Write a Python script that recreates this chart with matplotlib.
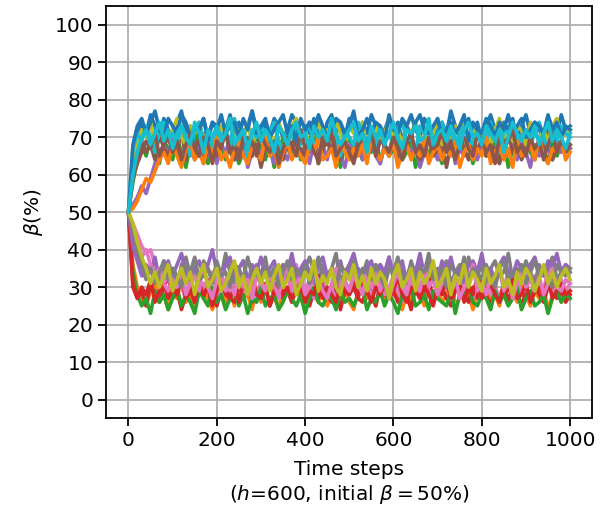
import numpy as np
import matplotlib
matplotlib.use("Agg")
import matplotlib.pyplot as plt

# beta (%) of each run, read every 10 time steps (0..1000)
steps = np.arange(0, 1001, 10)

run0 = [50,64,70,74,71,76,73,69,75,72, 70,74,77,71,73,69,72,75,70,74, 73,68,72,76,71,74,70,73,77,72,
        69,74,71,75,73,70,72,76,74,69, 73,71,75,72,68,74,76,71,73,70, 75,72,69,74,71,76,73,70,72,75,
        71,74,69,73,76,72,70,75,73,68, 72,74,71,77,73,70,72,75,71,74, 69,73,76,72,70,74,72,75,69,73,
        76,71,74,72,70,75,73,71,76,72, 73]
run1 = [50,36,30,27,25,29,31,26,28,24, 30,27,32,26,28,25,29,31,27,24, 28,30,26,29,25,31,27,28,24,30,
        26,29,32,27,25,28,30,26,29,27, 24,31,28,26,30,25,28,32,27,29, 26,24,29,31,27,28,25,30,26,28,
        31,27,24,29,26,30,28,25,31,27, 29,26,28,32,25,27,30,28,24,29, 27,31,26,28,25,30,27,29,26,31,
        28,25,29,27,30,24,28,31,26,28, 29]
run2 = [50,58,64,68,65,70,66,63,69,67, 64,70,66,62,68,71,65,67,63,69, 66,68,64,70,67,63,66,69,65,71,
        67,64,68,62,66,70,67,65,69,64, 68,66,71,63,67,65,69,66,62,68, 70,65,67,64,69,66,71,63,68,65,
        67,70,64,66,69,62,67,68,65,70, 66,63,69,67,64,71,66,68,63,67, 69,65,66,70,64,68,62,67,69,65,
        71,66,64,68,67,63,70,65,68,66, 67]
run3 = [50,30,27,29,25,31,28,26,30,33, 27,29,24,28,31,26,30,27,32,28, 25,29,31,27,26,30,28,33,26,29,
        27,31,25,28,30,27,29,26,32,28, 30,25,29,27,31,28,26,30,24,29, 28,32,27,26,30,29,25,31,28,27,
        29,26,31,28,24,30,27,29,33,26, 28,30,27,25,29,31,28,26,30,27, 32,28,25,29,27,31,26,30,28,25,
        29,27,31,28,26,30,33,27,29,26, 28]
run4 = [50,52,54,57,55,59,63,66,68,65, 70,66,63,68,67,64,69,71,65,67, 63,68,66,70,64,67,69,62,66,68,
        65,70,67,63,69,66,64,68,71,65, 67,63,69,66,68,64,70,67,65,62, 68,66,70,64,67,69,65,63,68,66,
        71,64,67,69,65,68,62,66,70,67, 64,68,66,71,63,67,65,69,66,64, 68,70,65,67,63,69,66,68,64,70,
        66,62,68,65,69,67,64,70,66,68, 67]
run5 = [50,60,65,69,66,68,64,71,67,65, 69,66,72,64,68,66,70,63,67,69, 65,68,71,66,64,69,67,70,65,68,
        62,67,70,66,68,64,69,72,66,67, 65,70,68,63,67,69,66,71,64,68, 67,65,70,68,64,69,66,72,67,65,
        68,63,69,67,71,66,64,68,70,65, 67,69,62,68,66,71,67,64,69,66, 70,65,68,67,63,69,71,66,68,64,
        67,70,65,68,66,72,64,67,69,66, 68]
run6 = [50,47,44,41,39,40,36,34,31,33, 29,32,30,27,33,35,28,31,29,34, 30,27,32,29,35,31,28,33,30,26,
        32,29,34,31,27,30,33,28,36,30, 29,32,27,31,34,29,30,26,33,31, 28,35,30,29,32,27,31,34,28,30,
        33,29,26,31,30,35,28,32,29,27, 31,34,30,28,32,29,36,30,27,31, 29,33,28,31,26,30,34,29,32,28,
        30,27,33,31,29,35,28,30,32,29, 31]
run7 = [50,43,38,35,32,36,34,31,37,33, 35,30,36,38,33,34,31,37,35,32, 36,33,39,34,31,35,37,32,34,36,
        33,38,31,35,34,36,32,37,33,30, 35,38,34,32,36,33,35,39,31,34, 36,32,35,33,37,30,34,36,33,38,
        32,35,34,31,37,33,36,34,39,32, 35,33,37,31,34,36,32,38,34,33, 36,31,35,37,33,34,39,32,35,33,
        37,34,31,36,33,35,38,32,34,36, 34]
run8 = [50,63,69,72,70,74,68,71,73,69, 72,75,70,68,73,71,74,69,72,70, 67,73,71,75,69,72,70,74,68,71,
        73,70,72,67,74,71,69,73,75,70, 72,68,71,74,70,72,69,75,71,68, 73,71,70,74,67,72,73,69,71,75,
        70,72,68,73,71,74,70,69,72,71, 75,68,72,70,73,71,74,69,72,70, 71,73,68,72,75,70,71,69,73,72,
        68,74,71,70,72,69,73,75,70,71, 72]
run9 = [50,67,71,69,73,70,66,72,74,69, 71,68,73,70,65,72,74,69,71,67, 73,70,72,68,75,69,71,64,72,70,
        73,68,71,74,69,66,72,70,73,68, 71,74,67,70,72,69,73,71,65,72, 70,68,74,71,69,72,67,73,70,71,
        68,72,74,69,70,66,73,71,72,68, 70,74,69,72,67,71,73,70,68,72, 71,69,74,70,66,72,71,73,69,70,
        72,68,71,74,70,67,72,69,73,71, 70]
run10 = [50,68,73,75,71,74,77,72,70,75, 73,71,76,74,70,73,72,75,69,74, 72,76,71,73,74,70,75,72,77,71,
         73,75,70,72,74,76,71,73,69,75, 72,74,71,76,73,70,72,75,74,71, 73,77,70,72,75,71,74,73,69,76,
         72,71,75,73,70,74,76,72,71,73, 75,70,72,74,71,73,76,69,74,72, 71,75,73,70,74,72,76,71,73,75,
         70,72,74,73,71,76,72,74,70,73, 72]
run11 = [50,51,53,56,59,58,61,64,66,63, 68,65,62,67,69,64,66,63,68,65, 70,64,66,62,67,69,65,63,68,66,
         64,70,65,67,62,66,69,64,67,65, 63,68,66,70,64,65,67,62,69,66, 64,67,65,68,63,70,66,64,67,65,
         69,62,66,68,64,67,65,70,63,66, 68,64,67,65,69,62,66,68,64,67, 65,70,63,66,68,64,67,62,69,65,
         66,68,64,70,65,63,67,66,69,64, 66]
run12 = [50,34,28,25,27,23,29,26,28,24, 27,30,25,28,26,23,29,27,25,30, 26,28,24,27,29,25,28,23,27,26,
         30,25,27,28,24,26,29,27,25,28, 23,27,30,26,25,28,27,24,29,26, 27,25,28,30,24,27,26,29,25,28,
         26,23,28,27,30,25,26,28,24,29, 27,26,25,29,23,28,27,30,26,25, 28,27,24,29,26,28,25,27,30,24,
         27,29,25,26,28,23,27,29,26,28, 27]
run13 = [50,31,27,30,28,32,26,29,31,27, 30,28,33,27,29,26,31,28,30,25, 29,32,28,27,30,26,31,29,33,28,
         27,30,25,29,32,28,30,27,29,31, 26,29,28,33,27,30,28,26,31,29, 28,30,27,32,29,26,30,28,31,27,
         29,33,28,26,30,29,27,31,28,25, 30,28,32,27,29,31,26,30,28,33, 27,29,31,28,26,30,29,32,27,28,
         31,26,29,30,28,32,27,29,31,28, 29]
run14 = [50,41,37,33,36,34,38,32,35,37, 33,36,39,34,31,35,37,33,36,40, 34,32,36,38,33,35,37,31,36,34,
         38,33,35,37,32,36,34,39,33,35, 37,34,31,36,38,33,35,34,37,32, 36,39,34,33,35,37,32,36,34,38,
         33,35,37,31,36,34,39,33,35,36, 32,37,34,38,33,35,31,36,37,34, 39,33,35,32,36,38,34,33,37,35,
         31,36,38,34,33,37,35,39,34,36, 35]
run15 = [50,59,63,66,69,67,71,65,68,70, 66,69,64,68,71,67,65,70,68,63, 69,67,72,66,68,64,70,67,69,65,
         71,68,66,69,63,67,70,68,65,72, 67,69,66,64,70,68,71,65,67,69, 66,63,68,70,67,72,65,69,68,66,
         70,67,64,69,71,66,68,65,70,67, 68,72,66,69,64,68,70,67,65,71, 69,66,68,63,70,67,69,72,66,68,
         65,70,67,69,64,68,71,66,69,67, 68]
run16 = [50,46,43,38,40,36,33,35,31,29, 32,30,34,28,31,33,29,36,30,27, 32,34,29,31,28,35,30,32,27,33,
         31,29,34,30,28,32,36,29,31,33, 28,30,34,32,29,27,31,35,30,32, 29,33,31,28,34,30,36,29,32,27,
         31,34,30,28,33,31,29,35,30,32, 28,31,34,29,33,27,30,32,36,29, 31,28,33,30,35,29,32,27,31,34,
         30,32,29,33,28,31,35,30,29,32, 31]
run17 = [50,45,40,36,33,35,31,34,37,32, 35,33,30,36,34,38,32,33,35,31, 37,33,34,30,36,35,32,38,33,34,
         31,36,33,35,30,34,37,32,35,33, 36,31,34,38,33,32,35,30,36,34, 33,37,31,35,34,32,36,33,30,35,
         34,38,32,33,36,31,35,34,37,32, 33,35,30,36,34,33,38,31,35,34, 32,36,33,30,35,37,32,34,33,36,
         31,34,37,33,35,32,30,36,34,33, 35]
run18 = [50,47,42,38,35,31,34,30,33,36, 29,32,35,31,34,28,33,36,30,32, 35,29,31,34,37,30,33,28,32,35,
         31,34,29,33,36,30,32,35,28,31, 34,32,37,29,33,31,35,30,28,34, 32,36,30,33,29,35,31,34,32,27,
         33,36,30,32,35,29,34,31,33,37, 30,32,35,28,33,31,36,30,34,32, 29,35,31,33,36,30,32,28,34,31,
         35,33,29,32,36,31,34,30,33,35, 32]
run19 = [50,60,66,70,72,68,71,74,69,72, 67,71,73,70,68,74,71,66,72,70, 73,69,71,75,68,70,72,67,71,74,
         69,72,70,66,73,71,68,72,74,70, 71,67,73,70,72,69,75,71,68,70, 72,74,69,71,66,73,70,72,68,71,
         74,70,67,72,71,73,69,70,75,68, 71,72,69,73,70,67,72,74,70,71, 68,73,71,69,72,66,70,74,71,69,
         72,70,73,68,71,74,69,72,70,67, 71]

runs = [run0, run1, run2, run3, run4, run5, run6, run7, run8, run9,
        run10, run11, run12, run13, run14, run15, run16, run17, run18, run19]

plt.rcParams['font.size'] = 14.5
fig = plt.figure(figsize=(6.08, 5.12), dpi=100)
ax = fig.add_subplot(111)
fig.subplots_adjust(left=0.175, right=0.974, bottom=0.183, top=0.988)

for r in runs:
    ax.plot(steps, r, lw=2.6)

ax.set_ylim(-5, 105)
ax.set_yticks(np.arange(0, 101, 10))
ax.set_xticks(np.arange(0, 1001, 200))
ax.grid(True, color='#b0b0b0', lw=1.3)
ax.tick_params(length=6, width=1.3)
for s in ax.spines.values():
    s.set_linewidth(1.3)
ax.set_ylabel(r'$\beta$(%)', labelpad=7)
ax.set_xlabel('Time steps\n' + r'($h$=600, initial $\beta = 50$%)', labelpad=7)

fig.savefig('out.png', dpi=100)
